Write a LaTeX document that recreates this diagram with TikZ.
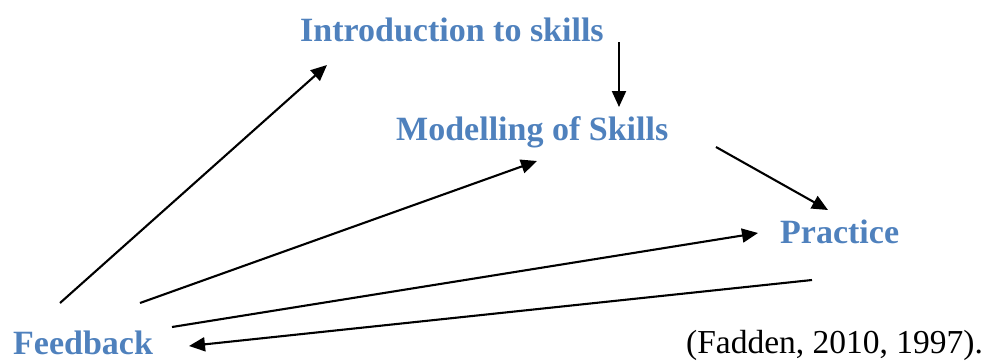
\documentclass[tikz,border=0pt]{standalone}
\usepackage{fontspec}
\setmainfont{Liberation Serif}
\usetikzlibrary{arrows.meta}
\definecolor{lblue}{RGB}{79,129,189}
\begin{document}
\begin{tikzpicture}[x=1pt,y=-1pt,
  lbl/.style={anchor=base west,inner sep=0pt,text=lblue,font=\fontsize{34}{40}\selectfont\bfseries},
  cite/.style={anchor=base west,inner sep=0pt,font=\fontsize{33.5}{40}\selectfont},
  conn/.style={line width=2.1pt,-{Triangle[length=16pt,width=14pt]}}]
\useasboundingbox (0,0) rectangle (989,360);
\node[lbl] (intro) at (300,41) {Introduction to skills};
\node[lbl] (model) at (396,140) {Modelling of Skills};
\node[lbl] (prac) at (780,243) {Practice};
\node[lbl] (feed) at (13,354) {Feedback};
\node[cite] (ref) at (686,353) {(Fadden, 2010, 1997).};
\coordinate (f1) at (60,303);
\coordinate (i1) at (327,65);
\coordinate (f2) at (140,303);
\coordinate (m1) at (537,161);
\coordinate (f3) at (172,327);
\coordinate (p1) at (758,233);
\coordinate (p2) at (812,280);
\coordinate (f4) at (189,346);
\coordinate (i2) at (619,42);
\coordinate (m2) at (619,107);
\coordinate (m3) at (716,147);
\coordinate (p3) at (828,210);
\draw[conn] (f1) -- (i1);
\draw[conn] (f2) -- (m1);
\draw[conn] (f3) -- (p1);
\draw[conn] (p2) -- (f4);
\draw[conn] (i2) -- (m2);
\draw[conn] (m3) -- (p3);
\end{tikzpicture}
\end{document}
